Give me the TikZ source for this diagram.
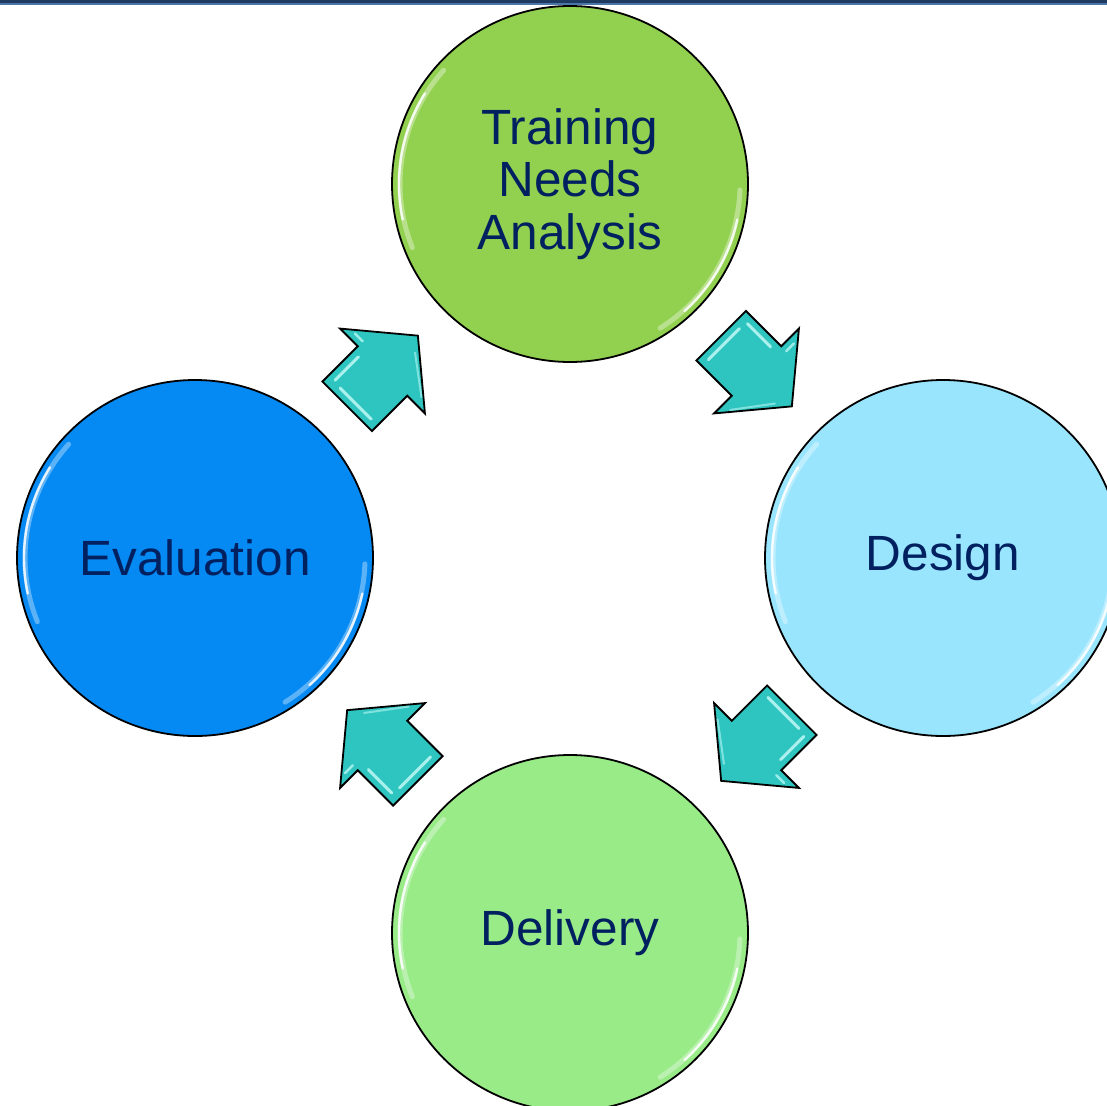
\documentclass[tikz,border=0pt]{standalone}
\usepackage{fontspec}
\setmainfont{Liberation Sans}
\usetikzlibrary{calc}

\definecolor{barNavy}{HTML}{1F3A60}
\definecolor{barLight}{HTML}{4A76A8}
\definecolor{textNavy}{HTML}{002060}
\definecolor{tnaGreen}{HTML}{92D050}
\definecolor{designBlue}{HTML}{99E5FE}
\definecolor{evalBlue}{HTML}{0589F3}
\definecolor{deliveryGreen}{HTML}{98EB86}
\definecolor{arrowTeal}{HTML}{2EC5C1}
\definecolor{arrowGlint}{HTML}{B8F6F3}

\tikzset{
  stage/.style={circle, draw=black, line width=1.8pt, minimum size=356pt,
    inner sep=0pt, text=textNavy, align=center,
    font=\fontsize{49.5}{52.5}\selectfont},
  softglint/.style={white, line width=5pt, opacity=0.35, line cap=round},
  glint/.style={white, line width=2.4pt, opacity=0.85, line cap=round},
  % block arrow pointing along local +x, centred on the origin
  flowarrow/.pic={
    \filldraw[fill=arrowTeal, draw=black, line width=1.8pt, line join=miter]
      (-50,-35) -- (0,-35) -- (0,-60) -- (50,0) -- (0,60) -- (0,35)
      -- (-50,35) -- cycle;
    % bevel highlights
    \draw[arrowGlint, line width=3pt, opacity=0.9, line cap=round]
      (-40,-27) -- (-7,-27);
    \draw[arrowGlint, line width=3pt, opacity=0.9, line cap=round]
      (-42,26) -- (-42,-18);
    \draw[arrowGlint, line width=2.5pt, opacity=0.8, line cap=round]
      (7,-46) -- (7,-35);
    \draw[arrowGlint, line width=2pt, opacity=0.6, line cap=round]
      (9,46) -- (36,10);
  }
}

\begin{document}
\begin{tikzpicture}[x=1pt, y=-1pt]
  \useasboundingbox (0,0) rectangle (1107,1105);
  \clip (0,0) rectangle (1107,1105);
  \fill[white] (0,0) rectangle (1107,1105);

  % header rule
  \fill[barNavy] (0,0) rectangle (1107,3.2);
  \fill[barLight] (0,3.2) rectangle (1107,4.6);

  % the four stages
  \node[stage, fill=tnaGreen]      (tna)      at (570,184) {Training\\Needs\\Analysis};
  \node[stage, fill=designBlue]    (design)   at (943,558) {Design};
  \node[stage, fill=deliveryGreen] (delivery) at (570,933) {Delivery};
  \node[stage, fill=evalBlue]      (eval)     at (195,558) {Evaluation};

  % glossy rim highlights
  \foreach \n in {tna, design, delivery, eval}{
    \draw[softglint] (\n.center) ++(222:170) arc[start angle=222, end angle=158, radius=170];
    \draw[glint] (\n.center) ++(212:171) arc[start angle=212, end angle=168, radius=171];
    \draw[softglint] (\n.center) ++(58:170) arc[start angle=58, end angle=2, radius=170];
    \draw[glint] (\n.center) ++(48:171) arc[start angle=48, end angle=12, radius=171];
  }

  % cycle arrows between neighbouring stages
  \path ($(tna)!0.5!(design)$)      pic[rotate=-45]  {flowarrow};
  \path ($(design)!0.5!(delivery)$) pic[rotate=-135] {flowarrow};
  \path ($(delivery)!0.5!(eval)$)   pic[rotate=135]  {flowarrow};
  \path ($(eval)!0.5!(tna)$)        pic[rotate=45]   {flowarrow};
\end{tikzpicture}
\end{document}
